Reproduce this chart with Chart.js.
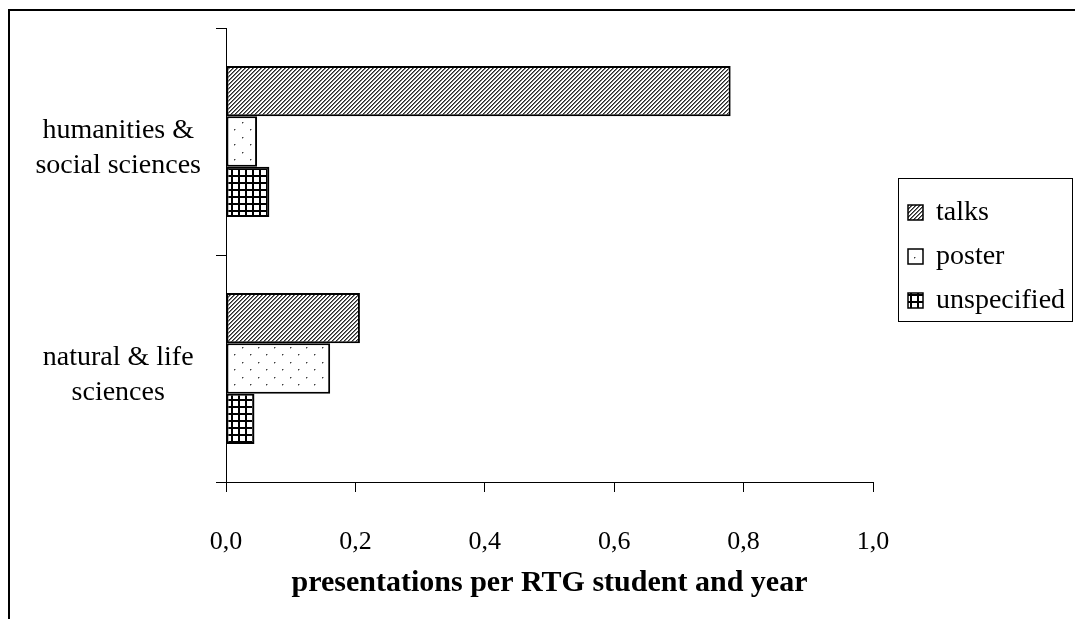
<!DOCTYPE html>
<html>
<head>
<meta charset="utf-8">
<script src="https://cdn.jsdelivr.net/npm/chart.js@4/dist/chart.umd.min.js"></script>
<style>
  html, body { margin: 0; padding: 0; background: #fff; }
  #wrap { width: 1075px; height: 619px; }
</style>
</head>
<body>
<div id="wrap"><canvas id="c" width="1075" height="619"></canvas></div>
<script>
// Fields of study (one group of bars each)
const categories = [["humanities &", "social sciences"], ["natural & life", "sciences"]];
// Presentations per RTG student and year, by type
const seriesNames = ["talks", "poster", "unspecified"];
const talks = [0.78, 0.207];
const poster = [0.048, 0.161];
const unspecified = [0.067, 0.044];
// Value axis tick labels (decimal comma)
const xTickLabels = ["0,0", "0,2", "0,4", "0,6", "0,8", "1,0"];
const axisTitle = "presentations per RTG student and year";

const FONT = "'Liberation Serif', 'Times New Roman', serif";

// Fill patterns for the three bar types
function makeTile(w, h, paint) {
  const cv = document.createElement('canvas');
  cv.width = w; cv.height = h;
  const cx = cv.getContext('2d');
  const img = cx.createImageData(w, h);
  for (let y = 0; y < h; y++) {
    for (let x = 0; x < w; x++) {
      const v = paint(x, y);
      const i = (y * w + x) * 4;
      img.data[i] = v; img.data[i + 1] = v; img.data[i + 2] = v; img.data[i + 3] = 255;
    }
  }
  cx.putImageData(img, 0, 0);
  return cx.createPattern(cv, 'repeat');
}
const hatch = makeTile(4, 4, (x, y) => {
  const k = (x + y) % 4;
  return k === 0 ? 40 : (k === 1 ? 120 : 255);
});
const dots = makeTile(16, 15, (x, y) => {
  if ((x === 2 && y === 2) || (x === 10 && y === 9)) return 60;
  if ((x === 3 && y === 2) || (x === 11 && y === 9) || (x === 2 && y === 3) || (x === 10 && y === 10)) return 170;
  return 255;
});
const grid = makeTile(7, 7, (x, y) => (x < 2 || y < 2) ? 0 : 255);
const fills = [hatch, dots, grid];

// Frame around the whole figure (open on the right and bottom)
const framePlugin = {
  id: 'frame',
  afterDraw(chart) {
    const ctx = chart.ctx;
    ctx.save();
    ctx.strokeStyle = '#000';
    ctx.lineWidth = 2;
    ctx.beginPath();
    ctx.moveTo(9, chart.height);
    ctx.lineTo(9, 10);
    ctx.lineTo(chart.width, 10);
    ctx.stroke();
    ctx.restore();
  }
};

// Boxed legend on the right
const legendPlugin = {
  id: 'boxLegend',
  afterDraw(chart) {
    const ctx = chart.ctx;
    const box = { x: 898, y: 178, w: 174, h: 143 };
    ctx.save();
    ctx.fillStyle = '#fff';
    ctx.fillRect(box.x, box.y, box.w, box.h);
    ctx.strokeStyle = '#000';
    ctx.lineWidth = 1;
    ctx.strokeRect(box.x + 0.5, box.y + 0.5, box.w, box.h);
    ctx.font = '28px ' + FONT;
    ctx.textBaseline = 'middle';
    ctx.textAlign = 'left';
    chart.data.datasets.forEach((ds, i) => {
      const cy = 213 + i * 44;
      ctx.fillStyle = ds.backgroundColor;
      ctx.fillRect(908, cy - 8, 15, 15);
      ctx.strokeStyle = '#000';
      ctx.lineWidth = 1.5;
      ctx.strokeRect(908, cy - 8, 15, 15);
      ctx.fillStyle = '#000';
      ctx.fillText(ds.label, 936, cy);
    });
    ctx.restore();
  }
};

const seriesValues = [talks, poster, unspecified];

new Chart(document.getElementById('c'), {
  type: 'bar',
  data: {
    labels: categories,
    datasets: seriesNames.map((name, i) => ({
      label: name,
      data: seriesValues[i],
      backgroundColor: fills[i],
      borderColor: '#000',
      borderWidth: 2,
      borderSkipped: false,
      categoryPercentage: 0.665,
      barPercentage: 1.0
    }))
  },
  options: {
    indexAxis: 'y',
    responsive: false,
    animation: false,
    devicePixelRatio: 1,
    layout: { padding: { top: 28, right: 202, bottom: 0, left: 0 } },
    plugins: {
      legend: { display: false },
      tooltip: { enabled: false }
    },
    scales: {
      x: {
        min: 0,
        max: 1,
        ticks: {
          stepSize: 0.2,
          color: '#000',
          font: { family: FONT, size: 26 },
          padding: 35,
          maxRotation: 0,
          callback: (v, i) => xTickLabels[i]
        },
        grid: { drawOnChartArea: false, tickLength: 10, color: '#000', lineWidth: 1 },
        border: { display: true, color: '#000', width: 1 },
        title: {
          display: true,
          text: axisTitle,
          color: '#000',
          font: { family: FONT, size: 30, weight: 'bold' },
          padding: { top: 0, bottom: 18 }
        },
        afterFit(scale) { scale.height = 137; scale.paddingLeft = 0; scale.paddingRight = 0; }
      },
      y: {
        ticks: {
          color: '#000',
          font: { family: FONT, size: 28, lineHeight: 1.25 },
          padding: 15,
          labelOffset: 7,
          crossAlign: 'center'
        },
        grid: { drawOnChartArea: false, tickLength: 10, color: '#000', lineWidth: 1, offset: true },
        border: { display: true, color: '#000', width: 1 },
        afterFit(scale) { scale.width = 226; scale.paddingTop = 0; scale.paddingBottom = 0; }
      }
    }
  },
  plugins: [framePlugin, legendPlugin]
});
</script>
</body>
</html>
